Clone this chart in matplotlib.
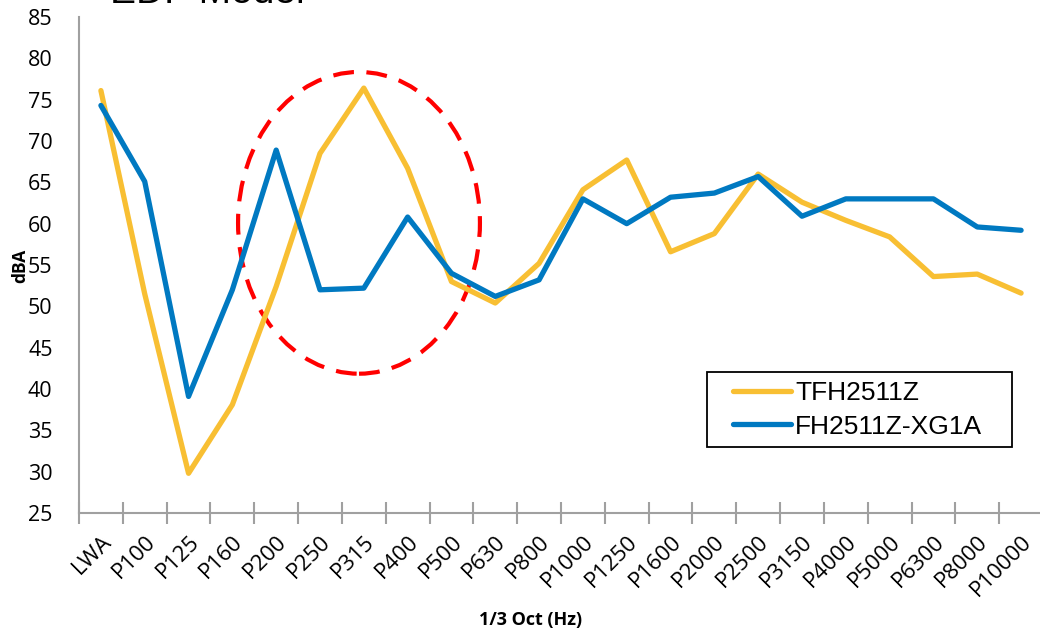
import matplotlib.pyplot as plt
from matplotlib.patches import Ellipse, Rectangle
import numpy as np

categories = ['LWA', 'P100', 'P125', 'P160', 'P200', 'P250', 'P315', 'P400', 'P500',
              'P630', 'P800', 'P1000', 'P1250', 'P1600', 'P2000', 'P2500', 'P3150',
              'P4000', 'P5000', 'P6300', 'P8000', 'P10000']
tfh = [76.1, 51.5, 29.8, 38.1, 52.4, 68.5, 76.4, 66.7, 53.0, 50.4, 55.2,
       64.1, 67.7, 56.6, 58.8, 66.0, 62.6, 60.4, 58.4, 53.6, 53.9, 51.6]
fh_xg = [74.3, 65.1, 39.1, 52.0, 68.9, 52.0, 52.2, 60.8, 54.0, 51.2, 53.2,
         63.0, 60.0, 63.2, 63.7, 65.7, 60.9, 63.0, 63.0, 63.0, 59.6, 59.2]

fig = plt.figure(figsize=(10.4, 6.34), dpi=100)
ax = fig.add_axes([79/1040, 1-513/634, 964/1040, (513-17)/634])
x = np.arange(len(categories))

ax.plot(x, tfh, color='#F8BF33', lw=3.8, label='TFH2511Z', solid_capstyle='round')
ax.plot(x, fh_xg, color='#0079C1', lw=3.8, label='FH2511Z-XG1A', solid_capstyle='round')

# red dashed circle around P200-P500
ell = Ellipse((5.89, 60.1), 5.52, 36.5, fill=False, edgecolor='#FF0000',
              lw=3.0, linestyle=(0, (5, 3)), clip_on=False)
ax.add_patch(ell)

ax.set_xlim(-0.5, len(categories) - 0.5)
ax.set_ylim(25, 85)
ax.set_yticks(range(25, 86, 5))
ax.tick_params(axis='y', length=0, labelsize=15.5, pad=19)
for lab in ax.get_yticklabels():
    lab.set_fontfamily('Open Sans')

ax.set_xticks(np.arange(-0.5, len(categories), 1))
ax.set_xticklabels([])
ax.tick_params(axis='x', which='major', direction='inout', length=16, width=1.5, color='#a0a0a0')
ax.set_xticks(x, minor=True)
ax.set_xticklabels(categories, minor=True, rotation=45, ha='right', va='top',
                   rotation_mode='anchor', fontsize=16, fontfamily='Open Sans')
ax.tick_params(axis='x', which='minor', length=0, pad=13)

for s in ['top', 'right']:
    ax.spines[s].set_visible(False)
for s in ['left', 'bottom']:
    ax.spines[s].set_color('#a0a0a0')
    ax.spines[s].set_linewidth(1.5)

fig.text(531/1040, 14/634, '1/3 Oct (Hz)', ha='center', va='center', fontsize=13,
         fontweight='bold', fontfamily='Open Sans')
fig.text(20/1040, 1-266/634, 'dBA', ha='center', va='center', rotation=90, fontsize=12.5,
         fontweight='bold', fontfamily='Open Sans')
fig.text(110/1040, 1+7/634, 'EDF Model', ha='left', va='center', fontsize=28,
         fontfamily='Liberation Sans')

# legend box
box = Rectangle((707/1040, 1-447/634), 305/1040, 75/634, transform=fig.transFigure,
                fill=False, edgecolor='black', lw=1.3)
fig.add_artist(box)
leg = ax.legend(loc='center left', bbox_to_anchor=(733/1040, 1-410/634),
                bbox_transform=fig.transFigure, frameon=False,
                handlelength=2.2, handletextpad=0.15, borderpad=0,
                labelspacing=0.35, borderaxespad=0,
                prop={'family': 'Liberation Sans', 'size': 19})

fig.savefig('out.png', dpi=100)
